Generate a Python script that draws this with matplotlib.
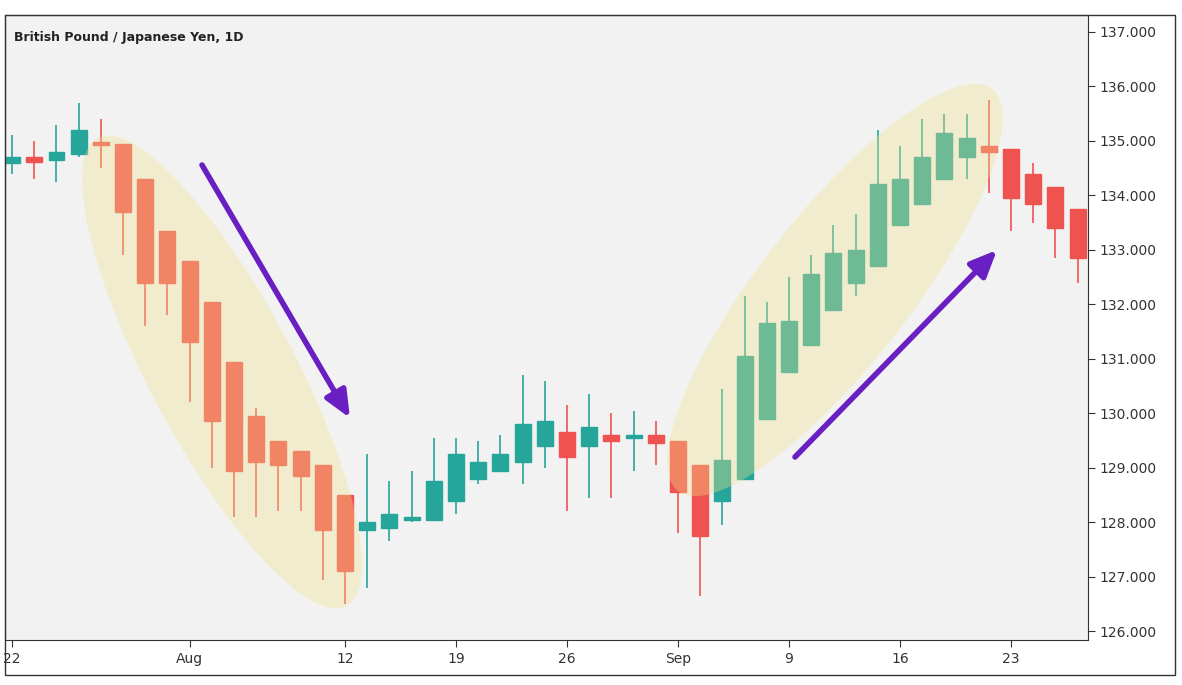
import matplotlib.pyplot as plt
import numpy as np
from matplotlib.patches import Ellipse, Rectangle
from matplotlib.transforms import IdentityTransform

# daily candles, GBP/JPY (trading days only)
opens = [134.6, 134.7, 134.65, 134.75, 134.95, 134.95, 134.3, 133.35, 132.8, 132.05,
         130.95, 129.95, 129.5, 129.3, 129.05, 128.5, 127.85, 127.9, 128.05, 128.05,
         128.4, 128.8, 128.95, 129.1, 129.4, 129.65, 129.4, 129.6, 129.55, 129.6,
         129.5, 129.05, 128.4, 128.8, 129.9, 130.75, 131.25, 131.9, 132.4, 132.7,
         133.45, 133.85, 134.3, 134.7, 134.9, 134.85, 134.4, 134.15, 133.75]
closes = [134.7, 134.62, 134.8, 135.2, 134.93, 133.7, 132.4, 132.4, 131.3, 129.85,
          128.95, 129.1, 129.05, 128.85, 127.85, 127.1, 128.0, 128.15, 128.08, 128.75,
          129.25, 129.1, 129.25, 129.8, 129.85, 129.2, 129.75, 129.5, 129.58, 129.45,
          128.55, 127.75, 129.15, 131.05, 131.65, 131.7, 132.55, 132.95, 133.0, 134.2,
          134.3, 134.7, 135.15, 135.05, 134.8, 133.95, 133.85, 133.4, 132.85]
highs = [135.1, 135.0, 135.3, 135.7, 135.4, 134.95, 134.3, 133.35, 132.8, 132.05,
         130.95, 130.1, 129.5, 129.3, 129.05, 128.5, 129.25, 128.75, 128.95, 129.55,
         129.55, 129.5, 129.6, 130.7, 130.6, 130.15, 130.35, 130.0, 130.05, 129.85,
         129.5, 129.05, 130.45, 132.15, 132.05, 132.5, 132.9, 133.45, 133.65, 135.2,
         134.9, 135.4, 135.5, 135.5, 135.75, 134.85, 134.6, 134.15, 133.75]
lows = [134.4, 134.3, 134.25, 134.7, 134.5, 132.9, 131.6, 131.8, 130.2, 129.0,
        128.1, 128.1, 128.2, 128.2, 126.95, 126.5, 126.8, 127.65, 128.0, 128.05,
        128.15, 128.7, 128.95, 128.7, 129.0, 128.2, 128.45, 128.45, 128.95, 129.05,
        127.8, 126.65, 127.95, 128.8, 129.9, 130.75, 131.25, 131.9, 132.15, 132.7,
        133.45, 133.85, 134.3, 134.3, 134.05, 133.35, 133.5, 132.85, 132.4]
tick_pos = [0, 8, 15, 20, 25, 30, 35, 40, 45]
tick_labels = ['22', 'Aug', '12', '19', '26', 'Sep', '9', '16', '23']
price_ticks = [126, 127, 128, 129, 130, 131, 132, 133, 134, 135, 136, 137]

W, H = 1182, 685
fig = plt.figure(figsize=(W / 100, H / 100), dpi=100)
fig.patch.set_facecolor('white')
ax = fig.add_axes([5 / W, (H - 640) / H, (1088 - 5) / W, (640 - 15) / H])
ax.set_facecolor('#f2f2f2')

up, down = '#26a69a', '#ef5350'
for i in range(len(opens)):
    o, c = opens[i], closes[i]
    col = up if c >= o else down
    ax.vlines(i, lows[i], highs[i], color=col, lw=1.2, zorder=2)
    bot = min(o, c)
    h = max(abs(c - o), 0.05)
    ax.add_patch(Rectangle((i - 0.36, bot), 0.72, h, color=col, zorder=3))

ax.set_xlim(-0.32, 48.47)
ax.set_ylim(125.84, 137.31)
ax.yaxis.tick_right()
ax.set_yticks(price_ticks)
ax.set_yticklabels(['%.3f' % p for p in price_ticks])
ax.set_xticks(tick_pos)
ax.set_xticklabels(tick_labels)
ax.tick_params(colors='#333333', labelsize=10, length=5)
for s in ax.spines.values():
    s.set_color('#333333')

# highlight ellipses (pixel coords, origin bottom-left)
e1 = Ellipse((222, H - 372), 530, 145, angle=-62, transform=IdentityTransform(),
             color='#f3e28c', alpha=0.35, zorder=5, lw=0)
e2 = Ellipse((835, H - 290), 510, 150, angle=52, transform=IdentityTransform(),
             color='#f3e28c', alpha=0.35, zorder=5, lw=0)
fig.patches.extend([e1, e2])

purple = '#6a1fc2'
for start, end in [((202, H - 165), (350, H - 418)), ((795, H - 457), (997, H - 250))]:
    ax.annotate('', xy=end, xytext=start, xycoords='figure pixels', textcoords='figure pixels',
                arrowprops=dict(arrowstyle='-|>,head_length=1.6,head_width=0.7', color=purple,
                                lw=4, shrinkA=0, shrinkB=0), zorder=6)

ax.text(0.008, 0.975, 'British Pound / Japanese Yen, 1D', transform=ax.transAxes,
        fontsize=9, fontweight='bold', color='#222222', va='top', ha='left')

fig.patches.append(Rectangle((5, 10), 1170, H - 25, transform=IdentityTransform(),
                             fill=False, edgecolor='#333333', lw=1))
fig.savefig('out.png', dpi=100)
